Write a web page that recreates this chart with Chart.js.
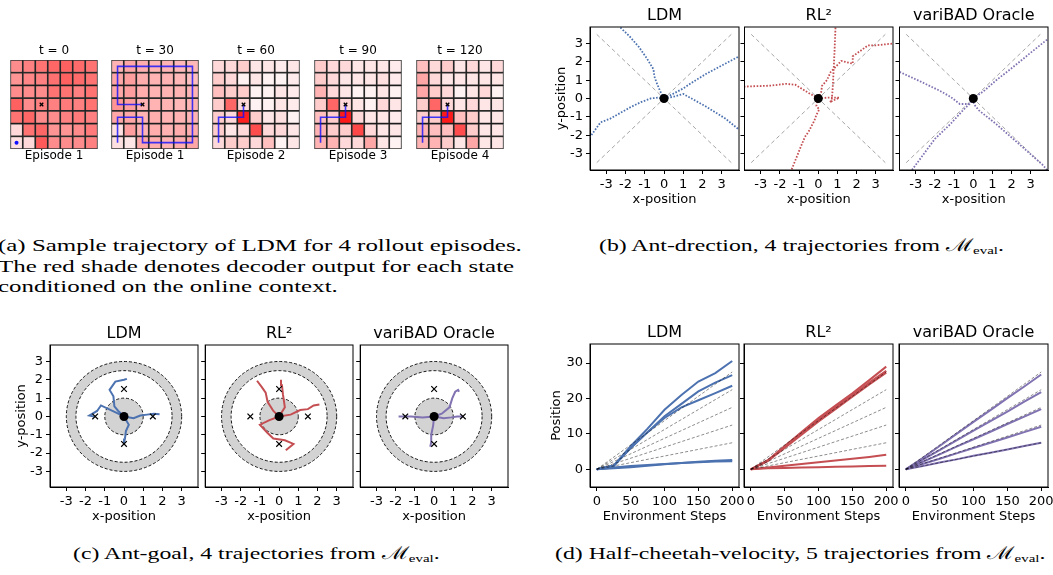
<!DOCTYPE html>
<html>
<head>
<meta charset="utf-8">
<script src="https://cdn.jsdelivr.net/npm/chart.js@4.4.1/dist/chart.umd.min.js"></script>
<style>
  body { margin: 0; width: 1053px; height: 575px; overflow: hidden; position: relative; background: #fff; }
  canvas { position: absolute; }
  .cap { position: absolute; font-family: "Liberation Serif", "DejaVu Serif", serif; font-size: 17.5px;
         line-height: 20.5px; white-space: nowrap; color: #000; transform-origin: 0 0; }
  .cap sub { font-size: 11px; line-height: 0; vertical-align: -3px; }
</style>
</head>
<body>
<div class="cap" id="capA" style="left:-2px;top:235px">(a) Sample trajectory of LDM for 4 rollout episodes.<br>The red shade denotes decoder output for each state<br>conditioned on the online context.</div>
<div class="cap" id="capB" data-center="801" style="top:235px">(b) Ant-drection, 4 trajectories from ℳ<sub>eval</sub>.</div>
<div class="cap" id="capC" data-center="256" style="top:543px">(c) Ant-goal, 4 trajectories from ℳ<sub>eval</sub>.</div>
<div class="cap" id="capD" data-center="800" style="top:543px">(d) Half-cheetah-velocity, 5 trajectories from ℳ<sub>eval</sub>.</div>
<script>
// ---------- (a) grid world, decoder output per cell (rows top to bottom) ----------
const gridTitles = ['t = 0', 't = 30', 't = 60', 't = 90', 't = 120'];
const gridEpisodes = ['Episode 1', 'Episode 1', 'Episode 2', 'Episode 3', 'Episode 4'];
const gridT0 = [
  [.45, .50, .55, .60, .62, .58, .55],
  [.42, .47, .50, .56, .62, .58, .55],
  [.45, .45, .45, .55, .55, .50, .55],
  [.62, .45, .50, .50, .52, .50, .55],
  [.55, .60, .45, .45, .50, .52, .50],
  [.15, .55, .60, .42, .42, .45, .52],
  [.12, .15, .65, .45, .45, .45, .50]
];
const gridT30 = [
  [.30, .35, .32, .30, .30, .28, .28],
  [.35, .38, .32, .30, .30, .28, .25],
  [.35, .38, .32, .30, .30, .30, .30],
  [.42, .38, .30, .30, .30, .28, .30],
  [.35, .35, .30, .32, .30, .30, .30],
  [.12, .38, .30, .32, .30, .32, .32],
  [.12, .10, .35, .32, .30, .32, .35]
];
const gridT60 = [
  [.15, .15, .20, .10, .10, .08, .10],
  [.20, .15, .05, .10, .05, .05, .08],
  [.25, .20, .20, .05, .05, .10, .08],
  [.20, .60, .15, .05, .05, .10, .08],
  [.20, .15, .88, .20, .10, .12, .05],
  [.20, .10, .15, .70, .15, .15, .10],
  [.15, .20, .20, .15, .25, .05, .10]
];
const gridT90 = [
  [.20, .15, .15, .10, .10, .10, .08],
  [.20, .15, .10, .10, .10, .12, .08],
  [.30, .15, .10, .05, .05, .10, .05],
  [.20, .60, .15, .10, .05, .15, .10],
  [.25, .20, .90, .15, .10, .10, .08],
  [.30, .20, .20, .72, .15, .10, .10],
  [.30, .30, .15, .15, .35, .10, .05]
];
const gridT120 = [
  [.25, .15, .20, .10, .15, .10, .15],
  [.35, .15, .10, .10, .10, .10, .10],
  [.35, .20, .15, .05, .10, .15, .05],
  [.20, .60, .15, .10, .15, .10, .10],
  [.20, .20, .90, .25, .20, .10, .10],
  [.30, .25, .25, .70, .20, .10, .10],
  [.30, .30, .20, .10, .35, .10, .10]
];
const goalCell = [2.5, 3.5];
const startCell = [0.5, 0.5];
const pathFirst = [[0.5, 0.5], [0.5, 2.5], [2.5, 2.5], [2.5, 0.5], [6.5, 0.5], [6.5, 6.5], [0.5, 6.5], [0.5, 3.5], [2.5, 3.5]];
const pathLater = [[0.5, 0.5], [0.5, 2.5], [2.5, 2.5], [2.5, 3.5]];

// ---------- shared method names ----------
const methodTitles = ['LDM', 'RL²', 'variBAD Oracle'];
const posTicks = [-3, -2, -1, 0, 1, 2, 3];
const origin = [0, 0];

// ---------- (b) ant-direction ----------
const dirDiagonals = [[[-3.5, -3.5], [3.5, 3.5]], [[-3.5, 3.5], [3.5, -3.5]]];
const dirLDM = [
  [[0, 0], [-0.2, 0.4], [-0.4, 0.9], [-0.5, 1.2], [-0.55, 1.6], [-0.9, 2.2], [-1.3, 2.8], [-1.8, 3.4], [-2.3, 3.9]],
  [[0, 0], [0.5, 0.27], [1.0, 0.55], [1.5, 0.9], [2.2, 1.35], [3.0, 1.8], [3.9, 2.3]],
  [[0, 0], [0.5, 0.1], [1.0, 0.25], [1.6, -0.1], [2.2, -0.45], [3.2, -1.1], [3.9, -1.7]],
  [[0, 0], [-0.3, 0.05], [-0.7, 0.0], [-1.2, -0.2], [-1.7, -0.45], [-2.8, -1.1], [-3.3, -1.3], [-3.85, -2.1]]
];
const dirRL2 = [
  [[0, 0], [0.5, 0.05], [1.1, 0.05], [0.6, -0.2], [0.7, -0.1], [0.75, 0.5], [0.8, 1.5], [0.85, 2.6], [0.9, 3.9]],
  [[0, 0], [0.15, 0.35], [0.2, 0.7], [0.45, 1.0], [0.65, 1.45], [1.2, 2.05], [1.8, 1.9], [1.8, 2.3], [2.6, 2.9], [3.0, 2.9], [3.9, 3.0]],
  [[0, 0], [-0.5, 0.3], [-1.2, 0.75], [-1.7, 0.8], [-2.5, 0.7], [-3.85, 0.65]],
  [[0, 0], [-0.1, -0.4], [0.05, -0.6], [-0.1, -0.9], [-0.2, -1.2], [-0.5, -1.8], [-0.7, -2.1], [-0.9, -2.6], [-1.4, -3.9]]
];
const dirOracle = [
  [[0, 0], [-0.2, -0.3], [-0.7, -0.3], [-1.2, 0.1], [-1.8, 0.45], [-2.8, 0.95], [-3.85, 1.45]],
  [[0, 0], [0.6, 0.45], [1.2, 1.0], [2.0, 1.65], [3.0, 2.5], [3.9, 3.25]],
  [[0, 0], [-0.2, -0.3], [-0.5, -0.6], [-1.2, -1.4], [-2.0, -2.2], [-3.2, -3.9]],
  [[0, -0.2], [0.1, -0.4], [0.3, -0.65], [1.2, -1.4], [2.3, -2.4], [3.6, -3.6], [3.85, -3.9]]
];

// ---------- (c) ant-goal ----------
const goalDisk = 1.0;
const goalRing = [2.5, 3.0];
const goalTargets = [[0, 1.5], [0, -1.5], [1.5, 0], [-1.5, 0]];
const goalLDM = [
  [[0, 0], [-0.3, 0.3], [-0.5, 0.55], [-0.55, 1.1], [-0.75, 1.45], [-0.45, 1.9], [0, 2.0], [0.15, 2.05]],
  [[0, 0], [-0.6, 0.3], [-1.2, 0.6], [-1.4, 0.3], [-1.8, 0.05], [-1.55, 0]],
  [[0, 0], [0.5, -0.1], [0.85, 0.05], [1.2, 0.1], [1.55, 0.15], [1.85, 0.12]],
  [[0, 0], [0.25, -0.45], [0.1, -0.8], [0.05, -1.2], [0, -1.5]]
];
const goalRL2 = [
  [[0, 0], [-0.3, 0.3], [-0.6, 0.8], [-0.7, 1.3], [-0.9, 1.6], [-1.15, 1.95]],
  [[0, 0], [0.3, 0.5], [0.2, 1.2], [0.15, 1.7], [0.1, 2.0]],
  [[0, 0], [0.6, 0.1], [1.1, 0.35], [1.5, 0.4], [1.8, 0.6], [2.1, 0.65]],
  [[0, 0], [-0.5, -0.2], [-1.0, -0.45], [-0.6, -0.9], [-0.3, -1.2], [0.3, -1.3], [0.75, -1.5], [0.35, -1.85]]
];
const goalOracle = [
  [[0, 0], [0.4, 0.15], [0.8, 0.5], [0.95, 1.0], [1.1, 1.35], [1.25, 1.45], [1.3, 1.35]],
  [[0, 0], [-0.6, -0.05], [-1.2, 0], [-1.55, 0], [-1.85, 0]],
  [[0, 0], [0.5, -0.1], [0.9, -0.05], [1.2, 0], [1.5, 0]],
  [[0, 0], [-0.05, -0.5], [-0.15, -1.0], [-0.15, -1.4], [-0.2, -1.65]]
];

// ---------- (d) half-cheetah-velocity ----------
const cheetahSteps = [0, 25, 50, 75, 100, 125, 150, 175, 200];
const stepTicks = [0, 50, 100, 150, 200];
const positionTicks = [0, 10, 20, 30];
const cheetahTargets = [27.5, 22.5, 17.5, 12.5, 7.5]; // position reached at step 200
const cheetahLDM = [
  [0, 1, 6.5, 11.5, 16.8, 21, 24.8, 27.2, 30.6],
  [0, 1, 6, 10.5, 15, 18.5, 22, 24.5, 26.6],
  [0, 1, 6, 10.5, 14.5, 17.5, 19.5, 21.5, 23.6],
  [0, 0.5, 0.9, 1.2, 1.5, 1.8, 2.0, 2.2, 2.3],
  [0, 0.3, 0.6, 1.0, 1.4, 1.8, 2.1, 2.4, 2.6]
];
const cheetahRL2 = [
  [0, 2.5, 6.5, 10.5, 14.5, 18, 21.5, 25.2, 29],
  [0, 2.5, 6.5, 10.3, 14, 17.5, 21, 24.5, 27.8],
  [0, 2.3, 6, 9.8, 13.5, 17, 20.5, 24, 27.3],
  [0, 0.5, 1, 1.5, 2, 2.5, 3, 3.5, 4.1],
  [0, 0.3, 0.4, 0.5, 0.6, 0.7, 0.8, 0.9, 1.0]
];
const cheetahOracle = [
  [0, 3.2, 6.6, 10, 13.4, 16.7, 20.1, 23.4, 26.8],
  [0, 2.7, 5.4, 8.2, 10.9, 13.6, 16.3, 19.1, 21.8],
  [0, 2.1, 4.2, 6.4, 8.5, 10.6, 12.8, 14.9, 17],
  [0, 1.5, 3, 4.5, 6, 7.5, 9, 10.5, 12],
  [0, 0.9, 1.9, 2.8, 3.8, 4.7, 5.6, 6.6, 7.5]
];

// ---------- helpers ----------
const FONT = 'DejaVu Sans';
Chart.defaults.font.family = FONT;
Chart.defaults.color = '#000';
const colors = ['#4c72b0', '#c44e52', '#8172b2'];
const toXY = p => ({ x: p[0], y: p[1] });
const heat = v => { const g = Math.round(255 * (1 - v)); return `rgb(255,${g},${g})`; };

function addCanvas(left, top, width, height) {
  const c = document.createElement('canvas');
  c.width = width; c.height = height;
  c.style.left = left + 'px'; c.style.top = top + 'px';
  c.style.width = width + 'px'; c.style.height = height + 'px';
  document.body.appendChild(c);
  return c;
}

// box around the plot area, like matplotlib spines
const framePlugin = {
  id: 'frame',
  afterDatasetsDraw(chart) {
    const { ctx, chartArea: a } = chart;
    ctx.save();
    ctx.strokeStyle = '#000';
    ctx.lineWidth = 1;
    ctx.strokeRect(a.left, a.top, a.right - a.left, a.bottom - a.top);
    ctx.restore();
  }
};

// goal region of ant-goal: inner disk and outer ring
const ringPlugin = {
  id: 'rings',
  beforeDatasetsDraw(chart) {
    const { ctx, scales: { x, y } } = chart;
    const cx = x.getPixelForValue(0), cy = y.getPixelForValue(0);
    const ell = r => { ctx.moveTo(x.getPixelForValue(r), cy); ctx.ellipse(cx, cy, x.getPixelForValue(r) - cx, cy - y.getPixelForValue(r), 0, 0, 2 * Math.PI); };
    ctx.save();
    ctx.fillStyle = '#d3d3d3';
    ctx.beginPath(); ell(goalRing[1]); ell(goalRing[0]); ctx.fill('evenodd');
    ctx.beginPath(); ell(goalDisk); ctx.fill();
    ctx.setLineDash([3, 2]);
    ctx.strokeStyle = '#000';
    ctx.lineWidth = 0.9;
    [goalDisk, ...goalRing].forEach(r => { ctx.beginPath(); ell(r); ctx.stroke(); });
    ctx.restore();
  }
};

function gridChart(i, values, path, boxLeft) {
  const PT = 60, PB = 149, W = 94;
  const top = Math.floor(PT - 16.4 - 2);
  const height = Math.ceil(PB + 14.4 + 2 - top);
  const cells = [], fills = [];
  values.forEach((row, r) => row.forEach((v, c) => {
    cells.push({ x: c + 0.5, y: [6 - r, 7 - r] });
    fills.push(heat(v));
  }));
  const datasets = [{
    type: 'bar', data: cells, backgroundColor: fills, borderColor: 'rgba(0,0,0,0.8)',
    borderWidth: 1.2, borderSkipped: false, barPercentage: 1, categoryPercentage: 1, order: 3
  }];
  if (path) datasets.push({ type: 'line', data: path.map(toXY), borderColor: 'rgba(15,15,255,0.8)', borderWidth: 1.6, pointRadius: 0, order: 2 });
  datasets.push({ type: 'scatter', data: [toXY(goalCell)], pointStyle: 'crossRot', pointRadius: 2.5, pointBorderColor: '#000', pointBorderWidth: 1.3, order: 0 });
  if (!path) datasets.push({ type: 'scatter', data: [toXY(startCell)], pointRadius: 2, pointBackgroundColor: '#1010ff', pointBorderWidth: 0, order: 0 });
  new Chart(addCanvas(boxLeft - 2, top, W + 4, height), {
    type: 'bar',
    data: { datasets },
    options: {
      responsive: false, animation: false, devicePixelRatio: 1,
      layout: { padding: { left: 2, right: 2, top: PT - 16.4 - top, bottom: top + height - PB - 14.4 } },
      scales: {
        x: { type: 'linear', min: 0, max: 7, offset: false, display: false, ticks: { stepSize: 1 } },
        y: { type: 'linear', min: 0, max: 7, display: false }
      },
      plugins: {
        legend: { display: false }, tooltip: { enabled: false },
        title: { display: true, text: gridTitles[i], fullSize: false, font: { size: 12, weight: 'normal' }, padding: { top: 0, bottom: 2 } },
        subtitle: { display: true, text: gridEpisodes[i], position: 'bottom', fullSize: false, font: { size: 12, weight: 'normal' }, padding: { top: 0, bottom: 0 } }
      }
    }
  });
}

function axisPanel(cfg) {
  const [PL, PR, PT, PB] = cfg.plot;
  const titleH = 21.2;
  const left = Math.floor(PL - cfg.yWidth);
  const yW = PL - left;
  const top = Math.floor(PT - titleH);
  const width = Math.ceil(PR + 16 - left);
  const height = Math.ceil(PB + 38 - top);
  const xH = top + height - PB;
  const axis = (ticks, labels, title) => ({
    type: 'linear',
    afterBuildTicks: s => { s.ticks = ticks.map(v => ({ value: v })); },
    ticks: { display: labels, font: { size: 13 }, padding: 3, maxRotation: 0, autoSkip: false, callback: v => String(v) },
    grid: { drawOnChartArea: false, drawTicks: true, tickLength: 4, color: '#000', lineWidth: 1 },
    border: { display: true, color: '#000', width: 1 },
    title: { display: labels && !!title, text: title, font: { size: 13 }, padding: { top: 0, bottom: 1 } }
  });
  const xAxis = Object.assign(axis(cfg.xTicks, true, cfg.xTitle), { min: cfg.xRange[0], max: cfg.xRange[1], afterFit: s => { s.height = xH; } });
  const yAxis = Object.assign(axis(cfg.yTicks, cfg.showY, cfg.yTitle), { min: cfg.yRange[0], max: cfg.yRange[1], afterFit: s => { s.width = yW; } });
  new Chart(addCanvas(left, top, width, height), {
    type: 'line',
    data: { datasets: cfg.datasets },
    plugins: [framePlugin].concat(cfg.plugins || []),
    options: {
      responsive: false, animation: false, devicePixelRatio: 1,
      layout: { padding: { left: 0, bottom: 0, top: PT - titleH - top, right: left + width - PR } },
      elements: { line: { tension: 0 } },
      scales: { x: xAxis, y: yAxis },
      plugins: {
        legend: { display: false }, tooltip: { enabled: false },
        title: { display: true, text: cfg.title, fullSize: false, font: { size: 16, weight: 'normal' }, padding: { top: 0, bottom: 2 } }
      }
    }
  });
}

// ---------- (a) ----------
const gridValues = [gridT0, gridT30, gridT60, gridT90, gridT120];
const gridPaths = [null, pathFirst, pathLater, pathLater, pathLater];
const gridLefts = [7, 108, 209, 311, 413];
gridValues.forEach((v, i) => gridChart(i, v, gridPaths[i], gridLefts[i]));

// ---------- (b) ----------
const rightCols = [[590, 739], [744, 893], [899, 1048]];
[dirLDM, dirRL2, dirOracle].forEach((trajs, i) => {
  const ds = dirDiagonals.map(d => ({ data: d.map(toXY), borderColor: 'rgba(0,0,0,0.45)', borderWidth: 0.8, borderDash: [4, 3], pointRadius: 0, order: 3 }));
  trajs.forEach(t => ds.push({ data: t.map(toXY), borderColor: colors[i], borderWidth: 1.8, borderDash: [1.6, 1.6], pointRadius: 0, order: 2 }));
  ds.push({ data: [toXY(origin)], showLine: false, pointRadius: 4.5, pointBackgroundColor: '#000', pointBorderWidth: 0, order: 0 });
  axisPanel({
    plot: [rightCols[i][0], rightCols[i][1], 27, 170], yWidth: i === 0 ? 35.2 : 4, showY: i === 0,
    title: methodTitles[i], xTitle: 'x-position', yTitle: 'y-position',
    xRange: [-3.85, 3.9], yRange: [-3.9, 3.9], xTicks: posTicks, yTicks: posTicks, datasets: ds
  });
});

// ---------- (c) ----------
const leftCols = [[50, 198], [204, 353], [359, 508]];
[goalLDM, goalRL2, goalOracle].forEach((trajs, i) => {
  const ds = trajs.map(t => ({ data: t.map(toXY), borderColor: colors[i], borderWidth: 2, pointRadius: 0, order: 2 }));
  ds.push({ data: goalTargets.map(toXY), showLine: false, pointStyle: 'crossRot', pointRadius: 4, pointBorderColor: '#000', pointBorderWidth: 1.2, order: 1 });
  ds.push({ data: [toXY(origin)], showLine: false, pointRadius: 4.5, pointBackgroundColor: '#000', pointBorderWidth: 0, order: 0 });
  axisPanel({
    plot: [leftCols[i][0], leftCols[i][1], 345, 487], yWidth: i === 0 ? 35.2 : 4, showY: i === 0,
    title: methodTitles[i], xTitle: 'x-position', yTitle: 'y-position',
    xRange: [-3.85, 3.85], yRange: [-3.85, 3.9], xTicks: posTicks, yTicks: posTicks, datasets: ds, plugins: [ringPlugin]
  });
});

// ---------- (d) ----------
[cheetahLDM, cheetahRL2, cheetahOracle].forEach((series, i) => {
  const ds = cheetahTargets.map(v => ({ data: [{ x: 0, y: 0 }, { x: 200, y: v }], borderColor: 'rgba(0,0,0,0.45)', borderWidth: 1, borderDash: [3, 2], pointRadius: 0, order: 0 }));
  series.forEach(s => ds.push({ data: s.map((v, k) => ({ x: cheetahSteps[k], y: v })), borderColor: colors[i], borderWidth: 2, pointRadius: 0, order: 2 }));
  axisPanel({
    plot: [rightCols[i][0], rightCols[i][1], 344, 487], yWidth: i === 0 ? 40.2 : 4, showY: i === 0,
    title: methodTitles[i], xTitle: 'Environment Steps', yTitle: 'Position',
    xRange: [-10, 210], yRange: [-5, 35.4], xTicks: stepTicks, yTicks: positionTicks, datasets: ds
  });
});

// ---------- captions: widen like the reference and centre under each panel ----------
const capScale = 490 / document.getElementById('capD').offsetWidth;
document.querySelectorAll('.cap').forEach(el => {
  const s = el.id === 'capA' ? 524 / el.offsetWidth : capScale;
  el.style.transform = `scaleX(${s})`;
  if (el.dataset.center) el.style.left = (+el.dataset.center - el.offsetWidth * s / 2) + 'px';
});
</script>
</body>
</html>
